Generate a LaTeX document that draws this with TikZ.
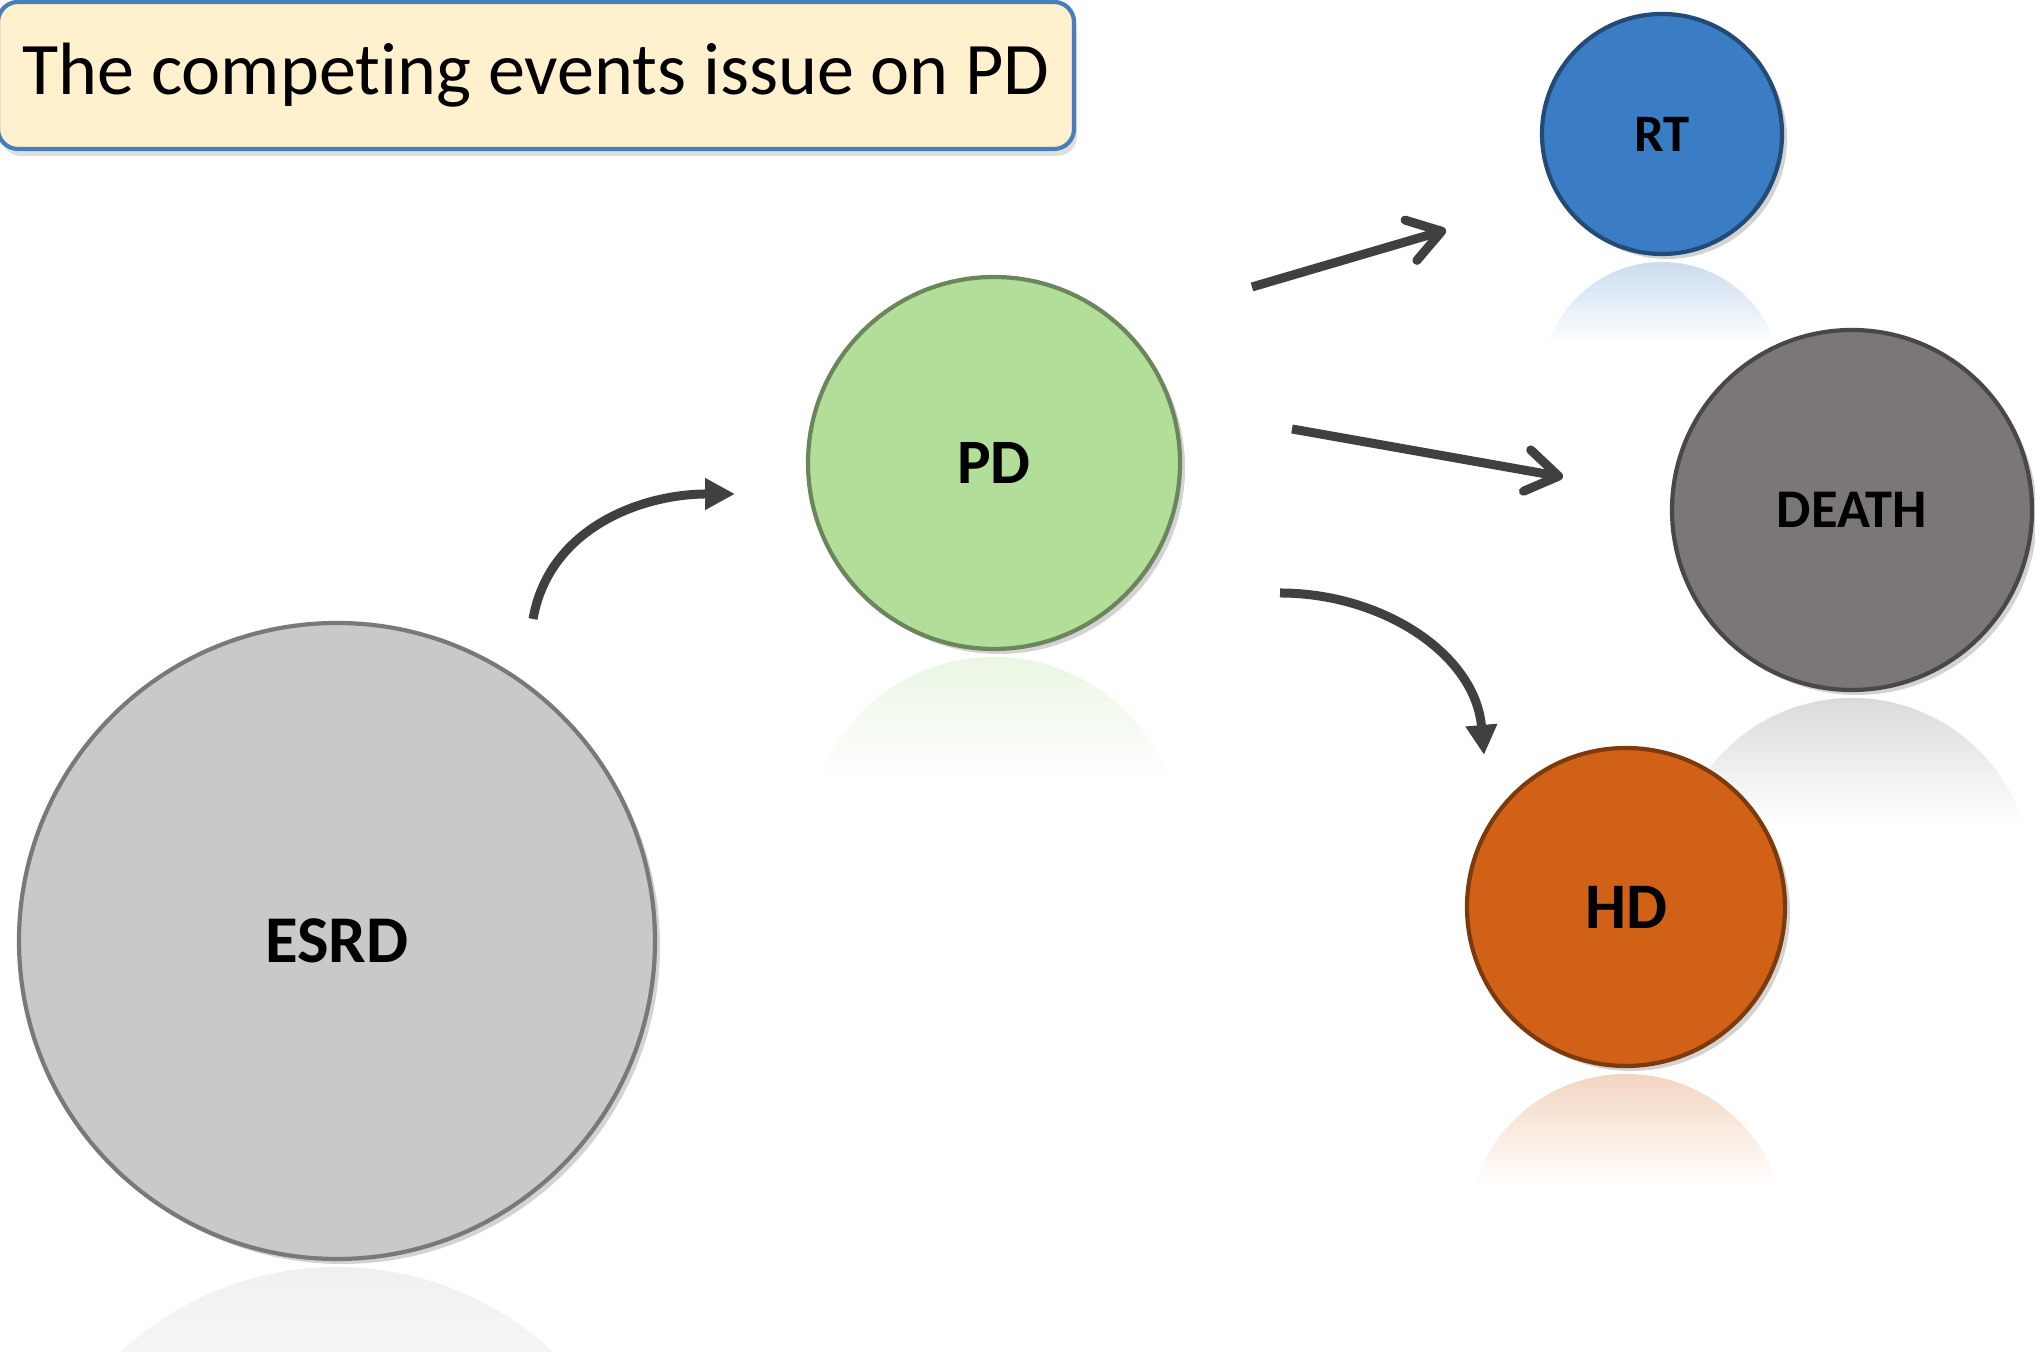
\documentclass[tikz,border=0pt]{standalone}
\usepackage{fontspec}
\setmainfont{Carlito}[Ligatures=NoCommon]
\usetikzlibrary{arrows.meta,shadows,fadings}
\definecolor{esrdgray}{HTML}{C9C9C9}
\definecolor{pdgreen}{HTML}{B3DE99}
\definecolor{rtblue}{HTML}{3A7DC4}
\definecolor{deathgray}{HTML}{7B7777}
\definecolor{hdorange}{HTML}{D16116}
\definecolor{titlefill}{HTML}{FFF1CE}
\definecolor{titleline}{HTML}{4A7EBB}
\definecolor{arrowgray}{HTML}{404040}
\tikzfading[name=reflfade, top color=transparent!72, bottom color=transparent!100]
\newcommand{\ballrefl}[4]{%
\begin{scope}
\clip (#1,#2-2*#3-0.08) circle (#3);
\fill[#4, path fading=reflfade] (#1-#3,#2-#3-0.04) rectangle (#1+#3,#2-#3-0.04-0.72*#3);
\end{scope}}
\newcommand{\labfont}[1]{\fontsize{#1}{#1}\selectfont\bfseries}

\tikzset{
  ball/.style={circle, fill=#1, draw=#1!60!black, line width=1.2pt, inner sep=0pt,
    drop shadow={opacity=0.35, shadow xshift=0.05cm, shadow yshift=-0.05cm}},
  titlebox/.style={rectangle, rounded corners=0.2cm, fill=titlefill, draw=titleline,
    line width=1.2pt, minimum width=10.76cm, minimum height=1.47cm,
    font=\fontsize{21.1}{21.1}\selectfont,
    drop shadow={opacity=0.25, shadow xshift=0.03cm, shadow yshift=-0.07cm}},
  flow/.style={draw=arrowgray, line width=0.09cm}
}

\begin{document}
\begin{tikzpicture}
\useasboundingbox (0,0) rectangle (20.35,13.52);

\ballrefl{3.37}{4.11}{3.18}{esrdgray}
\ballrefl{9.94}{8.89}{1.86}{pdgreen}
\ballrefl{16.62}{12.18}{1.20}{rtblue}
\ballrefl{18.52}{8.42}{1.80}{deathgray}
\ballrefl{16.26}{4.45}{1.59}{hdorange}

\node[titlebox] (title) at (5.36,12.765) {The competing events issue on PD};

\node[ball=esrdgray, minimum size=6.36cm, font=\labfont{19}] (esrd) at (3.37,4.11) {ESRD};
\node[ball=pdgreen, minimum size=3.72cm, font=\labfont{18}] (pd) at (9.94,8.89) {PD};
\node[ball=rtblue, minimum size=2.40cm, font=\labfont{15}] (rt) at (16.62,12.18) {RT};
\node[ball=deathgray, minimum size=3.60cm, font=\labfont{15.5}] (death) at (18.52,8.42) {DEATH};
\node[ball=hdorange, minimum size=3.18cm, font=\labfont{18.5}] (hd) at (16.26,4.45) {HD};

\coordinate (esrdout) at (5.33,7.33);
\coordinate (pdin) at (7.35,8.58);
\coordinate (pdrt) at (12.52,10.65);
\coordinate (rtin) at (14.46,11.22);
\coordinate (pddeath) at (12.92,9.23);
\coordinate (deathin) at (15.63,8.75);
\coordinate (pdhd) at (12.80,7.59);
\coordinate (hdin) at (14.84,5.97);

\draw[flow, -{Triangle[length=0.3cm,width=0.3cm]}] (esrdout) to[out=80,in=180] (pdin);
\draw[flow, -{Straight Barb[length=0.32cm,width=0.42cm,round]}] (pdrt) -- (rtin);
\draw[flow, -{Straight Barb[length=0.32cm,width=0.42cm,round]}] (pddeath) -- (deathin);
\draw[flow, -{Triangle[length=0.3cm,width=0.3cm]}] (pdhd) to[out=0,in=95] (hdin);
\end{tikzpicture}
\end{document}
